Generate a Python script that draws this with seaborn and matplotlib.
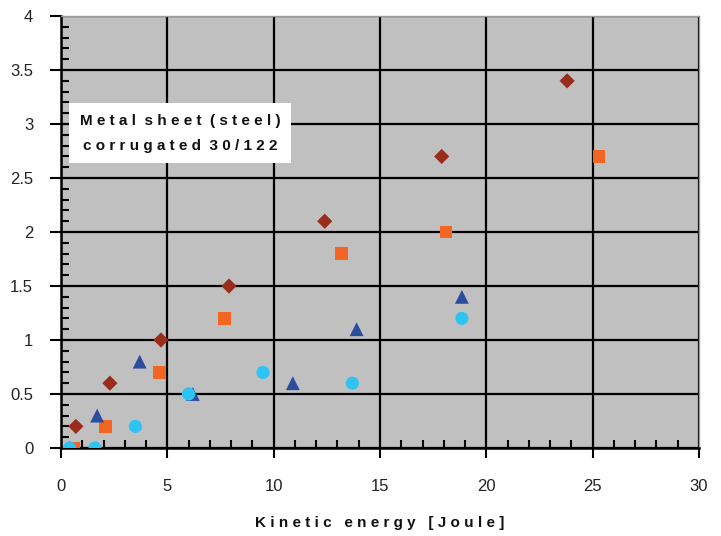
import pandas as pd
import matplotlib.pyplot as plt
import seaborn as sns
from matplotlib.ticker import MultipleLocator

# values
diamond_x = [0.7, 2.3, 4.7, 7.9, 12.4, 17.9, 23.8]
diamond_y = [0.2, 0.6, 1.0, 1.5, 2.1, 2.7, 3.4]
square_x = [0.6, 2.1, 4.65, 7.7, 13.2, 18.1, 25.3]
square_y = [0.0, 0.2, 0.7, 1.2, 1.8, 2.0, 2.7]
triangle_x = [0.4, 1.7, 3.7, 6.2, 10.9, 13.9, 18.85]
triangle_y = [0.0, 0.3, 0.8, 0.5, 0.6, 1.1, 1.4]
circle_x = [0.4, 1.6, 3.5, 6.0, 9.5, 13.7, 18.85]
circle_y = [0.0, 0.0, 0.2, 0.5, 0.7, 0.6, 1.2]

y_ticks = [0, 0.5, 1, 1.5, 2, 2.5, 3, 3.5, 4]
y_labels = ["0", "0.5", "1", "1.5", "2", "2.5", "3", "3.5", "4"]

series = {
    "diamond": (diamond_x, diamond_y),
    "square": (square_x, square_y),
    "triangle": (triangle_x, triangle_y),
    "circle": (circle_x, circle_y),
}
rows = []
for name, (xs, ys) in series.items():
    for x, y in zip(xs, ys):
        rows.append({"energy": x, "value": y, "series": name})
df = pd.DataFrame(rows)

palette = {"diamond": "#9a2c1c", "square": "#f26522", "triangle": "#2a4d9e", "circle": "#2ec4f2"}
markers = {"diamond": "D", "square": "s", "triangle": "^", "circle": "o"}
sizes = {"diamond": 60, "square": 85, "triangle": 100, "circle": 90}

sns.set_theme(style="white")
plt.rcParams["font.family"] = ["Liberation Sans", "DejaVu Sans"]

fig = plt.figure(figsize=(7.21, 5.36), dpi=100)
ax = fig.add_axes([0.0846, 0.1642, 0.8849, 0.8058])
ax.set_facecolor("#c0c0c0")

for name in series:
    sub = df[df["series"] == name]
    sns.scatterplot(data=sub, x="energy", y="value", color=palette[name],
                    marker=markers[name], s=sizes[name], edgecolor="none",
                    ax=ax, zorder=3, legend=False)

ax.set_xlim(0, 30)
ax.set_ylim(0, 4)
ax.xaxis.set_major_locator(MultipleLocator(5))
ax.xaxis.set_minor_locator(MultipleLocator(1))
ax.set_yticks(y_ticks, y_labels)
ax.yaxis.set_minor_locator(MultipleLocator(0.1))

ax.grid(which="major", color="black", linewidth=1.6, zorder=1)
ax.set_axisbelow(True)

ax.tick_params(which="major", axis="x", direction="out", length=7, width=1.5,
               color="black", pad=15, labelsize=12, labelcolor="#222")
ax.tick_params(which="major", axis="y", direction="out", length=8, width=1.5,
               color="black", pad=12, labelsize=12, labelcolor="#222")
ax.tick_params(which="minor", direction="in", length=6, width=1.5, color="black")
ax.tick_params(which="both", bottom=True, left=True)

for side in ["left", "bottom"]:
    ax.spines[side].set_color("black")
    ax.spines[side].set_linewidth(1.8)
for side in ["top", "right"]:
    ax.spines[side].set_color("#9a9a9a")
    ax.spines[side].set_linewidth(1.0)

ax.set_xlabel("K i n e t i c   e n e r g y   [ J o u l e ]", fontsize=11,
              fontweight="bold", labelpad=16, color="#111")
ax.set_ylabel("")

ax.text(5.6, 2.915, "M e t a l  s h e e t  ( s t e e l )\nc o r r u g a t e d  3 0 / 1 2 2",
        ha="center", va="center", fontsize=11, fontweight="bold",
        linespacing=2.0, color="#111", zorder=5,
        bbox=dict(boxstyle="square,pad=0.7", facecolor="white", edgecolor="none"))

plt.savefig("out.png", dpi=100, facecolor="white")
plt.close()
